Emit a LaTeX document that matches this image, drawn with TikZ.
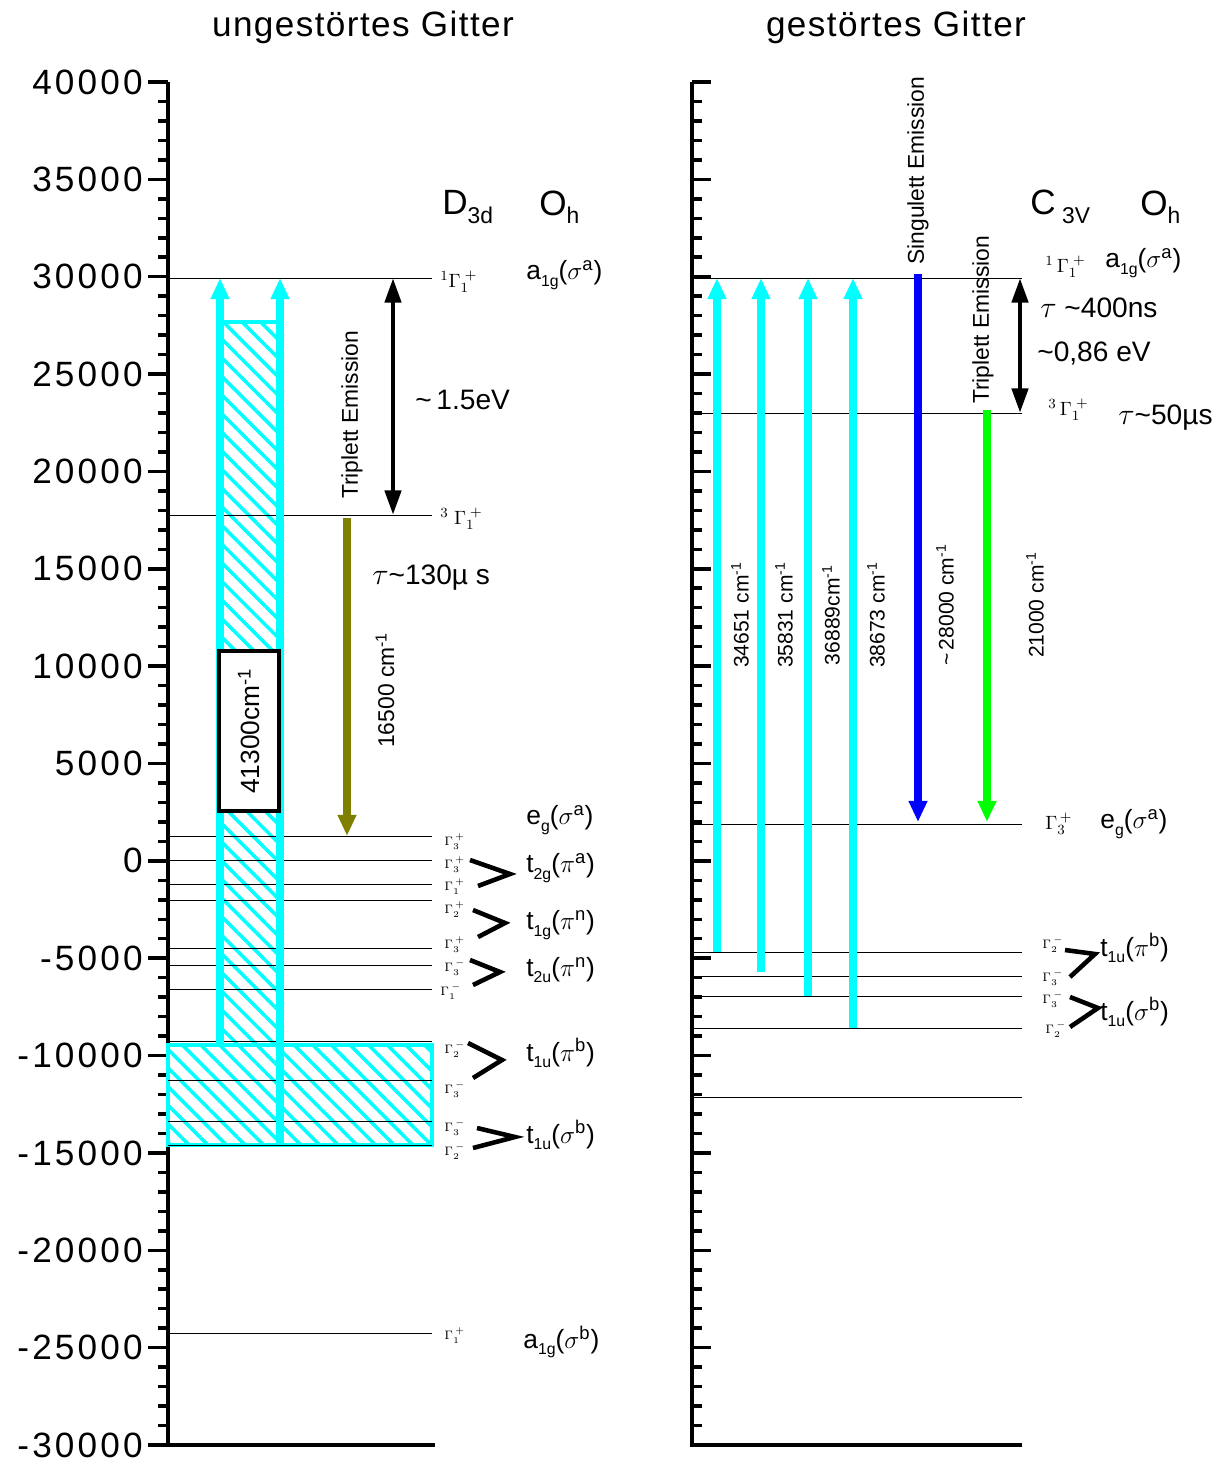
\documentclass[tikz,border=0pt]{standalone}
\usepackage{fontspec}
\setmainfont{Liberation Sans}
\newfontfamily\spacedfont[LetterSpace=9]{Liberation Sans}
\newfontfamily\titlefont[LetterSpace=4]{Liberation Sans}
\usetikzlibrary{arrows.meta,patterns.meta,positioning}
\definecolor{LevelCyan}{RGB}{0,255,255}
\definecolor{LevelOlive}{RGB}{128,128,0}
\definecolor{LevelBlue}{RGB}{0,0,255}
\definecolor{LevelGreen}{RGB}{0,255,0}
\tikzset{
  lv/axis/.style={line width=2.3pt},
  lv/tick/.style={line width=2pt},
  lv/level/.style={line width=0.5pt},
  lv/num/.style={anchor=east, inner sep=0pt, font=\spacedfont\fontsize{20}{22}\selectfont},
  lv/title/.style={font=\titlefont\fontsize{20}{22}\selectfont},
  lv/group/.style={anchor=west, inner sep=0pt, font=\fontsize{20}{22}\selectfont},
  lv/orb/.style={anchor=west, inner sep=0pt, font=\fontsize{15}{17}\selectfont},
  lv/info/.style={anchor=west, inner sep=0pt, font=\fontsize{16}{18}\selectfont},
  lv/gam/.style={anchor=west, inner sep=0pt, font=\fontsize{7}{7}\selectfont},
  lv/gambig/.style={anchor=west, inner sep=0pt, font=\fontsize{11}{12}\selectfont},
  lv/trans/.style={line width=4.3pt, -{Triangle[length=12pt,width=10pt]}},
  lv/dbl/.style={line width=2.8pt, {Triangle[length=14pt,width=9pt]}-{Triangle[length=14pt,width=9pt]}},
  lv/hatch/.style={pattern={Lines[angle=-45,distance=7.5pt,line width=2pt]}, pattern color=LevelCyan},
  lv/split/.style={line width=2.6pt},
  lv/rot/.style={rotate=90, inner sep=0pt, font=\fontsize{13}{15}\selectfont},
  lv/rotsmall/.style={rotate=90, inner sep=0pt, font=\fontsize{12}{14}\selectfont},
}
\newcommand{\ey}[1]{82+(40-(#1))*19.471}
\newcommand{\gsym}[2]{$\Gamma_{#1}^{\,#2}$}
\newcommand{\lowsub}[1]{\raisebox{-0.45ex}{\fontsize{9}{9}\selectfont #1}}
\newcommand{\orb}[3]{#1\lowsub{#2}($#3$)}

\begin{document}
\begin{tikzpicture}[x=0.02cm, y=-0.02cm]
  \useasboundingbox (0,0) rectangle (1215,1459);

  % titles
  \node[lv/title] (tleft) at (363,27) {ungestörtes Gitter};
  \node[lv/title] (tright) at (896,27) {gestörtes Gitter};

  % left axis with scale
  \draw[lv/axis] (168,82) -- (168,1445) -- (435,1445);
  \foreach \v in {-30,...,40}
    \draw[lv/tick] (158,{\ey{\v}}) -- (168,{\ey{\v}});
  \foreach \v in {-30,-25,...,40} {
    \draw[lv/tick] (148,{\ey{\v}}) -- (168,{\ey{\v}});
    \node[lv/num] (num\v) at (143,{\ey{\v}}) {\ifnum\v=0 0\else\v000\fi};
  }

  % right axis
  \draw[lv/axis] (692,82) -- (692,1445) -- (1022,1445);
  \foreach \v in {-30,...,40}
    \draw[lv/tick] (692,{\ey{\v}}) -- (702,{\ey{\v}});
  \foreach \v in {-30,-25,...,40}
    \draw[lv/tick] (692,{\ey{\v}}) -- (711,{\ey{\v}});

  % hatched bands (left)
  \fill[lv/hatch] (220,322) rectangle (280,1045);
  \draw[LevelCyan, line width=2.3pt] (220,322) -- (280,322);
  \draw[LevelCyan, line width=2.3pt, lv/hatch] (168,1045) rectangle (432,1145);

  % levels left
  \foreach \y in {278,515,836,860,884,900,948,965,989,1041,1080,1121,1145,1333}
    \draw[lv/level] (168,\y) -- (432,\y);

  % levels right
  \foreach \y in {278,413,824,952,976,996,1028,1097}
    \draw[lv/level] (692,\y) -- (1022,\y);

  % absorption (left)
  \coordinate (aLb) at (220,1045);
  \coordinate (aLt) at (220,278);
  \coordinate (aRb) at (280,1145);
  \coordinate (aRt) at (280,278);
  \draw[lv/trans, LevelCyan] (aLb) -- (aLt);
  \draw[lv/trans, LevelCyan] (aRb) -- (aRt);
  \node[draw, line width=2pt, fill=white, rotate=90, minimum width=91pt,
        minimum height=34pt, inner sep=0pt, font=\fontsize{15}{17}\selectfont]
        (gap) at (249,731) {41300cm\textsuperscript{-1}};

  % triplet (left)
  \coordinate (sgL) at (393,278);
  \coordinate (trL) at (393,515);
  \draw[lv/dbl] (sgL) -- (trL);
  \node[lv/rot] (tripL) at (352,415) {Triplett Emission};
  \node[lv/info] (evL) at (415,400) {\textasciitilde\,1.5eV};
  \coordinate (emLt) at (347,518);
  \coordinate (emLb) at (347,836);
  \draw[lv/trans, LevelOlive] (emLt) -- (emLb);
  \node[lv/info] (tauL) at (372,578) {$\tau$\textasciitilde 130µ s};
  \node[lv/rot] (wnL) at (385,690) {16500 cm\textsuperscript{-1}};

  % symmetry labels (left)
  \node[lv/group] (d3d) at (442,207) {D\lowsub{\fontsize{13}{13}\selectfont 3d}};
  \node[lv/group] (ohL) at (539,207) {O\lowsub{\fontsize{13}{13}\selectfont h}};
  \node[lv/gambig] (g1L) at (440,282) {$^{1}\Gamma_{1}^{\;+}$};
  \node[lv/gambig] (g3L) at (440,519) {$^{3}\;\Gamma_{1}^{\;+}$};
  \node[lv/gam] at (444,842) {\gsym{3}{+}};
  \node[lv/gam] at (444,865) {\gsym{3}{+}};
  \node[lv/gam] at (444,887) {\gsym{1}{+}};
  \node[lv/gam] at (444,910) {\gsym{2}{+}};
  \node[lv/gam] at (444,945) {\gsym{3}{+}};
  \node[lv/gam] at (444,968) {\gsym{3}{-}};
  \node[lv/gam] at (440,992) {\gsym{1}{-}};
  \node[lv/gam] at (444,1050) {\gsym{2}{-}};
  \node[lv/gam] at (444,1090) {\gsym{3}{-}};
  \node[lv/gam] at (444,1128) {\gsym{3}{-}};
  \node[lv/gam] at (444,1152) {\gsym{2}{-}};
  \node[lv/gam] at (444,1336) {\gsym{1}{+}};

  \node[lv/orb] (a1gL) at (526,275) {\orb{a}{1g}{\sigma^{\mathrm{a}}}};
  \node[lv/orb] (egL) at (526,820) {\orb{e}{g}{\sigma^{\mathrm{a}}}};
  \node[lv/orb] (t2g) at (526,868) {\orb{t}{2g}{\pi^{\mathrm{a}}}};
  \node[lv/orb] (t1g) at (526,925) {\orb{t}{1g}{\pi^{\mathrm{n}}}};
  \node[lv/orb] (t2u) at (526,970) {\orb{t}{2u}{\pi^{\mathrm{n}}}};
  \node[lv/orb] (t1upL) at (526,1053) {\orb{t}{1u}{\pi^{\mathrm{b}}}};
  \node[lv/orb] (t1usL) at (526,1135) {\orb{t}{1u}{\sigma^{\mathrm{b}}}};
  \node[lv/orb] (a1gbL) at (523,1342) {\orb{a}{1g}{\sigma^{\mathrm{b}}}};

  \draw[lv/split] (470,860) -- (510,874) -- (478,886);
  \draw[lv/split] (473,910) -- (505,923) -- (478,937);
  \draw[lv/split] (470,960) -- (500,972) -- (473,985);
  \draw[lv/split] (468,1043) -- (502,1060) -- (473,1078);
  \draw[lv/split] (477,1128) -- (515,1137) -- (473,1148);

  % absorption (right)
  \foreach \x/\yb/\wn in {717/952/34651\ cm, 761/972/35831\ cm, 808/996/36889cm, 853/1028/38673\ cm} {
    \coordinate (ab\x) at (\x,\yb);
    \coordinate (at\x) at (\x,278);
    \draw[lv/trans, LevelCyan] (ab\x) -- (at\x);
    \node[lv/rotsmall] (wn\x) at (\x+23,615) {\wn\textsuperscript{-1}};
  }

  % emissions (right)
  \coordinate (sgRt) at (918,274);
  \coordinate (sgRb) at (918,822);
  \draw[lv/trans, LevelBlue] (sgRt) -- (sgRb);
  \node[lv/rot, anchor=west] (singR) at (918,265) {Singulett Emission};
  \node[lv/rotsmall] (wnSg) at (945,605) {\textasciitilde\,28000 cm\textsuperscript{-1}};
  \coordinate (trRt) at (987,410);
  \coordinate (trRb) at (987,822);
  \draw[lv/trans, LevelGreen] (trRt) -- (trRb);
  \node[lv/rot] (tripR) at (983,320) {Triplett Emission};
  \node[lv/rotsmall] (wnTr) at (1035,605) {21000 cm\textsuperscript{-1}};
  \coordinate (sgR) at (1020,278);
  \coordinate (trR) at (1020,413);
  \draw[lv/dbl] (sgR) -- (trR);

  % symmetry labels (right)
  \node[lv/group] (c3v) at (1030,207) {C\lowsub{\fontsize{13}{13}\selectfont\ 3V}};
  \node[lv/group] (ohR) at (1140,207) {O\lowsub{\fontsize{13}{13}\selectfont h}};
  \node[lv/gambig] (g1R) at (1045,267) {$^{1}\,\Gamma_{1}^{\;+}$};
  \node[lv/orb] (a1gR) at (1105,263) {\orb{a}{1g}{\sigma^{\mathrm{a}}}};
  \node[lv/info] (tauS) at (1040,308) {$\tau$ \textasciitilde 400ns};
  \node[lv/info] (evR) at (1037,353) {\textasciitilde 0,86 eV};
  \node[lv/gambig] (g3R) at (1048,410) {$^{3}\,\Gamma_{1}^{\;+}$};
  \node[lv/info] (tauT) at (1118,418) {$\tau$\textasciitilde 50µs};
  \node[lv/gambig] at (1045,824) {\gsym{3}{+}};
  \node[lv/orb] (egR) at (1100,824) {\orb{e}{g}{\sigma^{\mathrm{a}}}};
  \node[lv/gam] at (1042,945) {\gsym{2}{-}};
  \node[lv/gam] at (1042,978) {\gsym{3}{-}};
  \node[lv/gam] at (1042,1000) {\gsym{3}{-}};
  \node[lv/gam] at (1045,1030) {\gsym{2}{-}};
  \node[lv/orb] (t1upR) at (1100,948) {\orb{t}{1u}{\pi^{\mathrm{b}}}};
  \node[lv/orb] (t1usR) at (1100,1012) {\orb{t}{1u}{\sigma^{\mathrm{b}}}};
  \draw[lv/split] (1065,950) -- (1095,954) -- (1070,977);
  \draw[lv/split] (1070,997) -- (1098,1008) -- (1070,1027);
\end{tikzpicture}
\end{document}
